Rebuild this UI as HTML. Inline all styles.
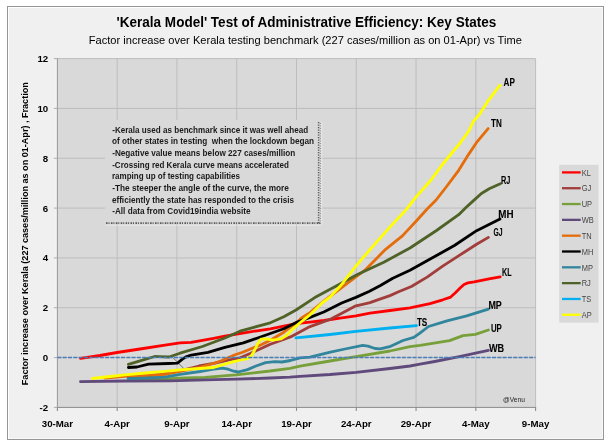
<!DOCTYPE html>
<html><head><meta charset="utf-8"><title>Kerala Model chart</title>
<style>
html,body{margin:0;padding:0;background:#fff;}
body{width:610px;height:446px;position:relative;overflow:hidden;}
#chart{position:absolute;left:7px;top:6px;width:595px;height:432px;border:1px solid #969696;background:#f0f0f0;box-shadow:inset 1px 1px 0 #fff, inset -1px -1px 0 #f8f8f8;}
svg{position:absolute;left:0;top:0;}
</style></head><body>
<div id="chart"></div>
<svg width="610" height="446" viewBox="0 0 610 446">
<rect x="57.4" y="58.6" width="478.2" height="348.8" fill="#d9d9d9"/>
<line x1="117.18" y1="58.6" x2="117.18" y2="407.4" stroke="#bdbdbd" stroke-width="1"/>
<line x1="176.95" y1="58.6" x2="176.95" y2="407.4" stroke="#bdbdbd" stroke-width="1"/>
<line x1="236.73" y1="58.6" x2="236.73" y2="407.4" stroke="#bdbdbd" stroke-width="1"/>
<line x1="296.50" y1="58.6" x2="296.50" y2="407.4" stroke="#bdbdbd" stroke-width="1"/>
<line x1="356.27" y1="58.6" x2="356.27" y2="407.4" stroke="#bdbdbd" stroke-width="1"/>
<line x1="416.05" y1="58.6" x2="416.05" y2="407.4" stroke="#bdbdbd" stroke-width="1"/>
<line x1="475.83" y1="58.6" x2="475.83" y2="407.4" stroke="#bdbdbd" stroke-width="1"/>
<line x1="535.60" y1="58.6" x2="535.60" y2="407.4" stroke="#bdbdbd" stroke-width="1"/>
<line x1="57.4" y1="357.57" x2="535.6" y2="357.57" stroke="#bdbdbd" stroke-width="1"/>
<line x1="57.4" y1="307.74" x2="535.6" y2="307.74" stroke="#bdbdbd" stroke-width="1"/>
<line x1="57.4" y1="257.91" x2="535.6" y2="257.91" stroke="#bdbdbd" stroke-width="1"/>
<line x1="57.4" y1="208.09" x2="535.6" y2="208.09" stroke="#bdbdbd" stroke-width="1"/>
<line x1="57.4" y1="158.26" x2="535.6" y2="158.26" stroke="#bdbdbd" stroke-width="1"/>
<line x1="57.4" y1="108.43" x2="535.6" y2="108.43" stroke="#bdbdbd" stroke-width="1"/>
<line x1="57.4" y1="58.60" x2="535.6" y2="58.60" stroke="#bdbdbd" stroke-width="1"/>
<rect x="105" y="120" width="213" height="102" fill="#d9d9d9"/>
<line x1="318.6" y1="122" x2="318.6" y2="224" stroke="#5e5e5e" stroke-width="1.5" stroke-dasharray="1.3 1.2"/>
<line x1="320.3" y1="123" x2="320.3" y2="224" stroke="#8c8c8c" stroke-width="1.2" stroke-dasharray="1 1.5"/>
<line x1="321.8" y1="122" x2="321.8" y2="225" stroke="#ebebeb" stroke-width="0.8"/>
<line x1="106" y1="223.2" x2="321" y2="223.2" stroke="#5a5a5a" stroke-width="1.8" stroke-dasharray="1.6 0.9 1 1.4"/>
<line x1="106" y1="225.3" x2="321" y2="225.3" stroke="#ebebeb" stroke-width="0.8"/>
<line x1="56.2" y1="58.1" x2="56.2" y2="407.4" stroke="#f7f7f7" stroke-width="1.2"/>
<line x1="57.4" y1="58.1" x2="57.4" y2="407.9" stroke="#9c9c9c" stroke-width="1.1"/>
<line x1="56.9" y1="407.4" x2="536.1" y2="407.4" stroke="#8a8a8a" stroke-width="1"/>
<line x1="53.9" y1="407.40" x2="57.4" y2="407.40" stroke="#b2b2b2" stroke-width="1.1"/>
<line x1="53.9" y1="357.57" x2="57.4" y2="357.57" stroke="#b2b2b2" stroke-width="1.1"/>
<line x1="53.9" y1="307.74" x2="57.4" y2="307.74" stroke="#b2b2b2" stroke-width="1.1"/>
<line x1="53.9" y1="257.91" x2="57.4" y2="257.91" stroke="#b2b2b2" stroke-width="1.1"/>
<line x1="53.9" y1="208.09" x2="57.4" y2="208.09" stroke="#b2b2b2" stroke-width="1.1"/>
<line x1="53.9" y1="158.26" x2="57.4" y2="158.26" stroke="#b2b2b2" stroke-width="1.1"/>
<line x1="53.9" y1="108.43" x2="57.4" y2="108.43" stroke="#b2b2b2" stroke-width="1.1"/>
<line x1="53.9" y1="58.60" x2="57.4" y2="58.60" stroke="#b2b2b2" stroke-width="1.1"/>
<line x1="57.40" y1="407.4" x2="57.40" y2="410.9" stroke="#8a8a8a" stroke-width="1.1"/>
<line x1="117.18" y1="407.4" x2="117.18" y2="410.9" stroke="#8a8a8a" stroke-width="1.1"/>
<line x1="176.95" y1="407.4" x2="176.95" y2="410.9" stroke="#8a8a8a" stroke-width="1.1"/>
<line x1="236.73" y1="407.4" x2="236.73" y2="410.9" stroke="#8a8a8a" stroke-width="1.1"/>
<line x1="296.50" y1="407.4" x2="296.50" y2="410.9" stroke="#8a8a8a" stroke-width="1.1"/>
<line x1="356.27" y1="407.4" x2="356.27" y2="410.9" stroke="#8a8a8a" stroke-width="1.1"/>
<line x1="416.05" y1="407.4" x2="416.05" y2="410.9" stroke="#8a8a8a" stroke-width="1.1"/>
<line x1="475.83" y1="407.4" x2="475.83" y2="410.9" stroke="#8a8a8a" stroke-width="1.1"/>
<line x1="535.60" y1="407.4" x2="535.60" y2="410.9" stroke="#8a8a8a" stroke-width="1.1"/>
<line x1="172.9" y1="357.6" x2="183.4" y2="368.1" stroke="#505050" stroke-width="0.8"/>
<polyline points="80.5,358.4 100.0,355.5 117.0,352.5 140.0,349.0 165.0,345.2 180.0,342.9 191.2,342.3 213.6,338.4 224.9,336.1 236.7,334.2 256.9,330.8 270.3,328.8 283.8,326.1 296.0,323.5 310.0,322.1 324.0,320.5 340.0,318.2 356.0,315.8 370.0,313.2 390.0,310.5 410.0,307.8 430.0,303.7 442.8,299.8 450.7,297.1 455.4,292.7 460.1,288.0 464.0,284.5 467.9,282.9 474.2,281.8 489.0,278.8 500.2,276.8" fill="none" stroke="#ff0000" stroke-width="2.8" stroke-linejoin="round" stroke-linecap="round"/>
<polyline points="128.7,378.0 160.0,374.5 185.0,369.5 199.1,366.0 213.6,363.3 227.1,360.3 240.0,357.8 250.2,353.5 270.3,344.3 290.5,336.9 310.0,326.6 323.8,321.6 330.4,319.3 342.8,312.8 355.9,305.8 362.7,304.3 370.0,302.6 378.4,299.6 390.0,295.6 398.0,292.0 411.4,286.5 427.1,277.1 442.7,266.1 459.3,255.4 476.6,244.3 488.4,237.4" fill="none" stroke="#a13d3a" stroke-width="2.8" stroke-linejoin="round" stroke-linecap="round"/>
<polyline points="128.7,380.0 150.0,379.5 170.0,378.6 185.0,377.8 205.0,377.3 236.0,374.8 270.0,371.0 290.0,368.3 300.0,366.2 330.0,361.0 356.0,356.7 390.0,351.0 410.0,346.7 420.0,345.4 449.5,340.6 463.0,335.6 475.4,334.4 488.4,330.0" fill="none" stroke="#77a03a" stroke-width="2.8" stroke-linejoin="round" stroke-linecap="round"/>
<polyline points="80.5,381.7 125.0,381.0 170.0,380.8 205.0,379.9 236.0,379.2 270.0,378.0 290.0,377.1 300.0,376.3 330.0,374.5 356.0,372.3 390.0,368.5 410.0,366.0 420.0,364.2 434.7,361.5 459.3,356.6 488.4,350.4" fill="none" stroke="#604a7b" stroke-width="2.8" stroke-linejoin="round" stroke-linecap="round"/>
<polyline points="104.8,378.0 125.0,376.3 145.0,375.5 165.0,374.5 180.0,371.4 200.0,367.3 215.0,363.0 221.3,360.8 234.4,355.0 242.6,352.2 256.9,346.5 262.3,344.3 270.3,340.2 283.8,332.2 297.2,322.1 302.3,317.4 310.0,312.7 323.8,301.2 347.9,282.8 365.9,269.3 385.6,249.3 402.4,235.9 417.0,220.2 427.1,209.0 436.1,200.0 446.6,186.5 458.7,170.3 468.8,154.1 476.4,142.7 488.1,128.6" fill="none" stroke="#e46c0a" stroke-width="2.8" stroke-linejoin="round" stroke-linecap="round"/>
<polyline points="128.4,367.5 137.0,367.0 148.6,364.2 168.3,363.5 177.5,363.1 182.7,358.9 186.7,356.5 191.2,355.2 208.0,352.4 224.9,347.3 243.4,342.9 256.9,338.2 270.3,333.5 283.8,328.8 297.2,322.1 310.0,317.4 323.8,312.0 341.7,303.0 355.9,297.4 369.0,291.5 380.0,285.8 392.8,278.2 410.0,270.2 434.7,256.6 454.4,245.5 476.6,230.7 500.0,219.1" fill="none" stroke="#000000" stroke-width="2.8" stroke-linejoin="round" stroke-linecap="round"/>
<polyline points="128.0,378.7 150.0,377.8 165.0,377.2 180.0,374.3 200.0,371.5 213.6,369.2 222.6,368.1 228.2,369.2 233.8,371.2 238.0,372.0 247.5,369.6 256.0,366.0 265.6,362.6 275.0,361.6 282.0,362.0 290.5,360.5 300.0,357.8 310.0,357.2 330.4,352.1 345.0,349.0 362.7,345.4 368.0,346.2 375.0,348.5 380.2,348.9 389.6,346.7 403.0,340.5 413.8,337.3 419.9,333.2 428.5,326.5 447.0,320.8 466.7,315.9 488.4,309.2" fill="none" stroke="#31859c" stroke-width="2.8" stroke-linejoin="round" stroke-linecap="round"/>
<polyline points="128.4,364.4 145.8,359.2 154.7,356.5 159.1,356.6 169.0,357.0 180.0,353.2 202.4,346.5 224.9,338.0 240.0,331.2 250.2,328.3 270.3,322.8 283.8,316.7 296.0,310.0 314.8,297.6 338.1,285.1 356.9,274.7 383.8,262.2 410.0,248.0 436.5,230.5 458.7,214.7 465.7,207.7 473.5,200.6 481.4,193.5 489.2,188.8 500.3,183.8" fill="none" stroke="#4f6228" stroke-width="2.8" stroke-linejoin="round" stroke-linecap="round"/>
<polyline points="296.0,337.8 330.0,334.5 356.0,331.4 390.0,328.0 416.5,325.7" fill="none" stroke="#00b0f0" stroke-width="2.8" stroke-linejoin="round" stroke-linecap="round"/>
<polyline points="92.4,378.5 110.0,376.5 125.0,374.8 145.0,373.0 165.0,371.3 180.0,369.8 213.6,367.5 224.9,364.2 232.7,361.9 240.8,360.0 247.5,358.7 251.0,356.2 254.0,351.5 257.5,344.0 261.0,339.2 266.3,338.9 273.0,340.2 281.1,338.9 286.5,335.5 293.2,328.8 299.9,322.8 309.3,315.4 322.0,303.0 330.0,297.1 340.8,285.5 356.9,264.8 374.8,244.2 391.0,225.9 406.2,209.7 416.3,196.6 430.4,180.8 442.5,164.5 451.0,154.0 460.2,143.0 468.3,131.8 473.3,121.5 479.4,114.4 488.5,100.3 500.0,85.2" fill="none" stroke="#ffff00" stroke-width="2.8" stroke-linejoin="round" stroke-linecap="round"/>
<line x1="57.4" y1="357.57" x2="535.6" y2="357.57" stroke="#4a7ebb" stroke-width="1.6" stroke-dasharray="4 1.3"/>
<text x="503.6" y="85.8" font-family="'Liberation Sans', Arial, sans-serif" font-weight="bold" font-size="10.4" fill="#000" stroke="#000" stroke-width="0.1" textLength="11.3" lengthAdjust="spacingAndGlyphs">AP</text>
<text x="491.0" y="127.4" font-family="'Liberation Sans', Arial, sans-serif" font-weight="bold" font-size="10.4" fill="#000" stroke="#000" stroke-width="0.1" textLength="10.8" lengthAdjust="spacingAndGlyphs">TN</text>
<text x="501.0" y="184.0" font-family="'Liberation Sans', Arial, sans-serif" font-weight="bold" font-size="10.4" fill="#000" stroke="#000" stroke-width="0.1" textLength="9.4" lengthAdjust="spacingAndGlyphs">RJ</text>
<text x="498.3" y="217.6" font-family="'Liberation Sans', Arial, sans-serif" font-weight="bold" font-size="10.4" fill="#000" stroke="#000" stroke-width="0.1" textLength="15.3" lengthAdjust="spacingAndGlyphs">MH</text>
<text x="493.4" y="236.4" font-family="'Liberation Sans', Arial, sans-serif" font-weight="bold" font-size="10.4" fill="#000" stroke="#000" stroke-width="0.1" textLength="9.1" lengthAdjust="spacingAndGlyphs">GJ</text>
<text x="502.0" y="275.6" font-family="'Liberation Sans', Arial, sans-serif" font-weight="bold" font-size="10.4" fill="#000" stroke="#000" stroke-width="0.1" textLength="9.6" lengthAdjust="spacingAndGlyphs">KL</text>
<text x="488.4" y="309.2" font-family="'Liberation Sans', Arial, sans-serif" font-weight="bold" font-size="10.4" fill="#000" stroke="#000" stroke-width="0.1" textLength="13.4" lengthAdjust="spacingAndGlyphs">MP</text>
<text x="416.9" y="325.8" font-family="'Liberation Sans', Arial, sans-serif" font-weight="bold" font-size="10.4" fill="#000" stroke="#000" stroke-width="0.1" textLength="10.4" lengthAdjust="spacingAndGlyphs">TS</text>
<text x="490.9" y="332.4" font-family="'Liberation Sans', Arial, sans-serif" font-weight="bold" font-size="10.4" fill="#000" stroke="#000" stroke-width="0.1" textLength="10.9" lengthAdjust="spacingAndGlyphs">UP</text>
<text x="489.0" y="351.7" font-family="'Liberation Sans', Arial, sans-serif" font-weight="bold" font-size="10.4" fill="#000" stroke="#000" stroke-width="0.1" textLength="15.2" lengthAdjust="spacingAndGlyphs">WB</text>
<text x="48.2" y="410.90" font-family="'Liberation Sans', Arial, sans-serif" font-weight="bold" font-size="9.7" text-anchor="end" fill="#000">-2</text>
<text x="48.2" y="361.07" font-family="'Liberation Sans', Arial, sans-serif" font-weight="bold" font-size="9.7" text-anchor="end" fill="#000">0</text>
<text x="48.2" y="311.24" font-family="'Liberation Sans', Arial, sans-serif" font-weight="bold" font-size="9.7" text-anchor="end" fill="#000">2</text>
<text x="48.2" y="261.41" font-family="'Liberation Sans', Arial, sans-serif" font-weight="bold" font-size="9.7" text-anchor="end" fill="#000">4</text>
<text x="48.2" y="211.59" font-family="'Liberation Sans', Arial, sans-serif" font-weight="bold" font-size="9.7" text-anchor="end" fill="#000">6</text>
<text x="48.2" y="161.76" font-family="'Liberation Sans', Arial, sans-serif" font-weight="bold" font-size="9.7" text-anchor="end" fill="#000">8</text>
<text x="48.2" y="111.93" font-family="'Liberation Sans', Arial, sans-serif" font-weight="bold" font-size="9.7" text-anchor="end" fill="#000">10</text>
<text x="48.2" y="62.10" font-family="'Liberation Sans', Arial, sans-serif" font-weight="bold" font-size="9.7" text-anchor="end" fill="#000">12</text>
<text x="57.40" y="426.6" font-family="'Liberation Sans', Arial, sans-serif" font-weight="bold" font-size="9.7" text-anchor="middle" fill="#000">30-Mar</text>
<text x="117.18" y="426.6" font-family="'Liberation Sans', Arial, sans-serif" font-weight="bold" font-size="9.7" text-anchor="middle" fill="#000">4-Apr</text>
<text x="176.95" y="426.6" font-family="'Liberation Sans', Arial, sans-serif" font-weight="bold" font-size="9.7" text-anchor="middle" fill="#000">9-Apr</text>
<text x="236.73" y="426.6" font-family="'Liberation Sans', Arial, sans-serif" font-weight="bold" font-size="9.7" text-anchor="middle" fill="#000">14-Apr</text>
<text x="296.50" y="426.6" font-family="'Liberation Sans', Arial, sans-serif" font-weight="bold" font-size="9.7" text-anchor="middle" fill="#000">19-Apr</text>
<text x="356.27" y="426.6" font-family="'Liberation Sans', Arial, sans-serif" font-weight="bold" font-size="9.7" text-anchor="middle" fill="#000">24-Apr</text>
<text x="416.05" y="426.6" font-family="'Liberation Sans', Arial, sans-serif" font-weight="bold" font-size="9.7" text-anchor="middle" fill="#000">29-Apr</text>
<text x="475.83" y="426.6" font-family="'Liberation Sans', Arial, sans-serif" font-weight="bold" font-size="9.7" text-anchor="middle" fill="#000">4-May</text>
<text x="535.60" y="426.6" font-family="'Liberation Sans', Arial, sans-serif" font-weight="bold" font-size="9.7" text-anchor="middle" fill="#000">9-May</text>
<text transform="translate(27.6,385.2) rotate(-90)" x="0" y="0" font-family="'Liberation Sans', Arial, sans-serif" font-weight="bold" font-size="9.6" fill="#000" textLength="303" lengthAdjust="spacingAndGlyphs">Factor increase over Kerala (227 cases/million as on 01-Apr) , Fraction</text>
<text x="116.6" y="27.2" font-family="'Liberation Sans', Arial, sans-serif" font-weight="bold" font-size="14" fill="#000" textLength="379.6" lengthAdjust="spacingAndGlyphs">'Kerala Model' Test of Administrative Efficiency: Key States</text>
<text x="88.8" y="43.9" font-family="'Liberation Sans', Arial, sans-serif" font-size="11" fill="#000" textLength="433" lengthAdjust="spacingAndGlyphs">Factor increase over Kerala testing benchmark (227 cases/million as on 01-Apr) vs Time</text>
<text x="112.2" y="132.80" font-family="'Liberation Sans', Arial, sans-serif" font-size="9.2" font-weight="bold" fill="#1a1a1a" textLength="196.0" lengthAdjust="spacingAndGlyphs" xml:space="preserve">-Kerala used as benchmark since it was well ahead</text>
<text x="111.9" y="144.43" font-family="'Liberation Sans', Arial, sans-serif" font-size="9.2" font-weight="bold" fill="#1a1a1a" textLength="202.2" lengthAdjust="spacingAndGlyphs" xml:space="preserve">of other states in testing  when the lockdown began</text>
<text x="112.2" y="156.06" font-family="'Liberation Sans', Arial, sans-serif" font-size="9.2" font-weight="bold" fill="#1a1a1a" textLength="183.1" lengthAdjust="spacingAndGlyphs" xml:space="preserve">-Negative value means below 227 cases/million</text>
<text x="112.2" y="167.69" font-family="'Liberation Sans', Arial, sans-serif" font-size="9.2" font-weight="bold" fill="#1a1a1a" textLength="176.7" lengthAdjust="spacingAndGlyphs" xml:space="preserve">-Crossing red Kerala curve means accelerated</text>
<text x="111.9" y="179.32" font-family="'Liberation Sans', Arial, sans-serif" font-size="9.2" font-weight="bold" fill="#1a1a1a" textLength="128.1" lengthAdjust="spacingAndGlyphs" xml:space="preserve">ramping up of testing capabilities</text>
<text x="112.2" y="190.95" font-family="'Liberation Sans', Arial, sans-serif" font-size="9.2" font-weight="bold" fill="#1a1a1a" textLength="176.7" lengthAdjust="spacingAndGlyphs" xml:space="preserve">-The steeper the angle of the curve, the more</text>
<text x="111.9" y="202.58" font-family="'Liberation Sans', Arial, sans-serif" font-size="9.2" font-weight="bold" fill="#1a1a1a" textLength="182.2" lengthAdjust="spacingAndGlyphs" xml:space="preserve">efficiently the state has responded to the crisis</text>
<text x="112.2" y="214.21" font-family="'Liberation Sans', Arial, sans-serif" font-size="9.2" font-weight="bold" fill="#1a1a1a" textLength="138.4" lengthAdjust="spacingAndGlyphs" xml:space="preserve">-All data from Covid19india website</text>
<rect x="559.2" y="164.8" width="39.3" height="157.8" fill="#d9d9d9"/>
<line x1="562" y1="172.40" x2="580.7" y2="172.40" stroke="#ff0000" stroke-width="2.3"/>
<text x="581.7" y="175.60" font-family="'Liberation Sans', Arial, sans-serif" font-size="8.5" fill="#454545" textLength="9.13" lengthAdjust="spacingAndGlyphs">KL</text>
<line x1="562" y1="188.22" x2="580.7" y2="188.22" stroke="#a13d3a" stroke-width="2.3"/>
<text x="581.7" y="191.42" font-family="'Liberation Sans', Arial, sans-serif" font-size="8.5" fill="#454545" textLength="9.53" lengthAdjust="spacingAndGlyphs">GJ</text>
<line x1="562" y1="204.04" x2="580.7" y2="204.04" stroke="#77a03a" stroke-width="2.3"/>
<text x="581.7" y="207.24" font-family="'Liberation Sans', Arial, sans-serif" font-size="8.5" fill="#454545" textLength="10.37" lengthAdjust="spacingAndGlyphs">UP</text>
<line x1="562" y1="219.86" x2="580.7" y2="219.86" stroke="#604a7b" stroke-width="2.3"/>
<text x="581.7" y="223.06" font-family="'Liberation Sans', Arial, sans-serif" font-size="8.5" fill="#454545" textLength="12.02" lengthAdjust="spacingAndGlyphs">WB</text>
<line x1="562" y1="235.68" x2="580.7" y2="235.68" stroke="#e46c0a" stroke-width="2.3"/>
<text x="581.7" y="238.88" font-family="'Liberation Sans', Arial, sans-serif" font-size="8.5" fill="#454545" textLength="9.95" lengthAdjust="spacingAndGlyphs">TN</text>
<line x1="562" y1="251.50" x2="580.7" y2="251.50" stroke="#000000" stroke-width="2.3"/>
<text x="581.7" y="254.70" font-family="'Liberation Sans', Arial, sans-serif" font-size="8.5" fill="#454545" textLength="11.60" lengthAdjust="spacingAndGlyphs">MH</text>
<line x1="562" y1="267.32" x2="580.7" y2="267.32" stroke="#31859c" stroke-width="2.3"/>
<text x="581.7" y="270.52" font-family="'Liberation Sans', Arial, sans-serif" font-size="8.5" fill="#454545" textLength="11.18" lengthAdjust="spacingAndGlyphs">MP</text>
<line x1="562" y1="283.14" x2="580.7" y2="283.14" stroke="#4f6228" stroke-width="2.3"/>
<text x="581.7" y="286.34" font-family="'Liberation Sans', Arial, sans-serif" font-size="8.5" fill="#454545" textLength="9.13" lengthAdjust="spacingAndGlyphs">RJ</text>
<line x1="562" y1="298.96" x2="580.7" y2="298.96" stroke="#00b0f0" stroke-width="2.3"/>
<text x="581.7" y="302.16" font-family="'Liberation Sans', Arial, sans-serif" font-size="8.5" fill="#454545" textLength="9.53" lengthAdjust="spacingAndGlyphs">TS</text>
<line x1="562" y1="314.78" x2="580.7" y2="314.78" stroke="#ffff00" stroke-width="2.3"/>
<text x="581.7" y="317.98" font-family="'Liberation Sans', Arial, sans-serif" font-size="8.5" fill="#454545" textLength="9.96" lengthAdjust="spacingAndGlyphs">AP</text>
<text x="503.1" y="402.2" font-family="'Liberation Sans', Arial, sans-serif" font-size="7.8" fill="#1e1e1e" textLength="21.7" lengthAdjust="spacingAndGlyphs">@Venu</text>
</svg>
</body></html>
